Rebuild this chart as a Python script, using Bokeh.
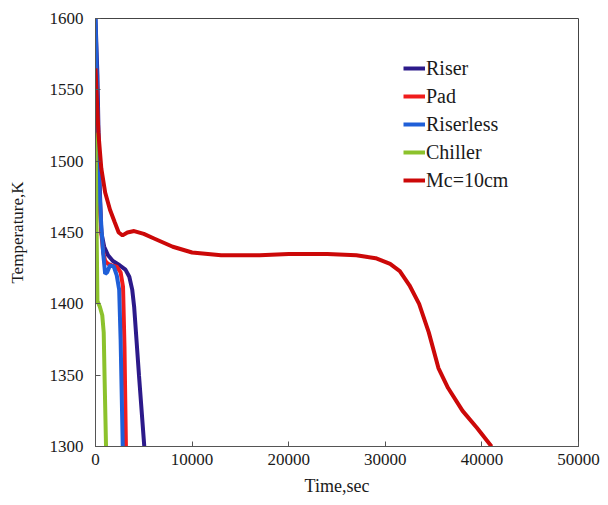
from bokeh.plotting import figure
from bokeh.models import FixedTicker, Legend, LegendItem, Range1d
from bokeh.embed import file_html
from bokeh.resources import INLINE

# ---- data ----
riser_t = [0, 200, 400, 600, 900, 1300, 1800, 2500, 3100, 3500, 3800, 4000, 4500, 5050]
riser_T = [1600, 1560, 1490, 1450, 1440, 1434, 1430, 1427, 1424, 1419, 1410, 1398, 1350, 1300]

pad_t = [0, 200, 400, 600, 800, 1000, 1300, 1700, 2200, 2600, 2850, 3000, 3150]
pad_T = [1565, 1520, 1475, 1450, 1436, 1430, 1428, 1427, 1426, 1422, 1412, 1370, 1300]

riserless_t = [0, 200, 400, 600, 800, 1000, 1200, 1500, 1900, 2200, 2450, 2600, 2820]
riserless_T = [1600, 1540, 1480, 1455, 1435, 1421, 1422, 1427, 1426, 1420, 1410, 1375, 1300]

chiller_t = [0, 100, 200, 450, 700, 850, 950, 1090]
chiller_T = [1520, 1460, 1402, 1398, 1392, 1380, 1345, 1300]

mc_t = [0, 300, 600, 1000, 1500, 2000, 2400, 2800, 3300, 4000, 5000, 6000, 8000, 10000, 13000,
        17000, 20000, 24000, 27000, 29000, 30500, 31500, 32500, 33500, 34500, 35500,
        36500, 38000, 39500, 41000]
mc_T = [1565, 1520, 1495, 1478, 1466, 1457, 1450, 1448, 1450, 1451, 1449, 1446, 1440, 1436, 1434,
        1434, 1435, 1435, 1434, 1432, 1428, 1423, 1413, 1400, 1380, 1355,
        1341, 1325, 1313, 1300]

x_ticks = [0, 10000, 20000, 30000, 40000, 50000]
y_ticks = [1300, 1350, 1400, 1450, 1500, 1550, 1600]

series = [
    ("Riser", riser_t, riser_T, "#2c1a8a"),
    ("Pad", pad_t, pad_T, "#f01c1c"),
    ("Riserless", riserless_t, riserless_T, "#1f5fd8"),
    ("Chiller", chiller_t, chiller_T, "#8cc22c"),
    ("Mc=10cm", mc_t, mc_T, "#cc0808"),
]

FONT = "Times New Roman"

p = figure(width=600, height=505, output_backend="svg", toolbar_location=None,
           x_range=Range1d(0, 50000), y_range=Range1d(1300, 1600),
           min_border_left=95, min_border_top=18, min_border_right=22, min_border_bottom=59)

p.xgrid.visible = False
p.ygrid.visible = False
p.outline_line_color = "#444444"
p.outline_line_width = 1
p.background_fill_color = "white"
p.border_fill_color = "white"

for ax in (p.xaxis[0], p.yaxis[0]):
    ax.major_tick_in = 5
    ax.major_tick_out = 0
    ax.minor_tick_line_color = None
    ax.axis_line_color = "#555555"
    ax.major_tick_line_color = "#555555"
    ax.major_label_text_font = FONT
    ax.major_label_text_font_size = "17px"
    ax.major_label_text_color = "#1a1a1a"
    ax.axis_label_text_font = FONT
    ax.axis_label_text_font_style = "normal"
    ax.axis_label_text_color = "#1a1a1a"

p.xaxis.axis_label_text_font_size = "18px"
p.yaxis.axis_label_text_font_size = "17px"
p.xaxis.ticker = FixedTicker(ticks=x_ticks)
p.yaxis.ticker = FixedTicker(ticks=y_ticks)
p.xaxis.axis_label = "Time,sec"
p.yaxis.axis_label = "Temperature,K"
p.xaxis.major_label_standoff = 7
p.yaxis.major_label_standoff = 12
p.xaxis.axis_label_standoff = 8
p.yaxis.axis_label_standoff = 20

items = []
for name, t, T, c in series:
    r = p.line(t, T, line_color=c, line_width=4)
    items.append(LegendItem(label=name, renderers=[r]))

legend = Legend(items=items, location=(308, 252))
legend.background_fill_alpha = 0
legend.border_line_color = None
legend.padding = 0
legend.margin = 0
legend.spacing = 0
legend.glyph_width = 22
legend.glyph_height = 28
legend.label_height = 28
legend.label_standoff = 1
legend.label_text_font = FONT
legend.label_text_font_size = "20px"
legend.label_text_color = "#1a1a1a"
p.add_layout(legend)

open("out.html", "w").write(file_html(p, INLINE))
